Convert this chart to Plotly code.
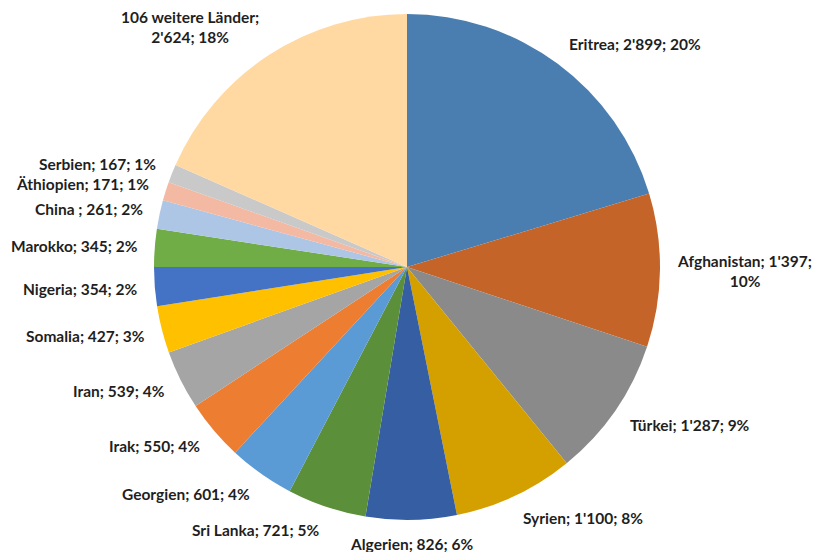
import math
import plotly.graph_objects as go

countries = ["Eritrea", "Afghanistan", "Türkei", "Syrien", "Algerien", "Sri Lanka",
             "Georgien", "Irak", "Iran", "Somalia", "Nigeria", "Marokko", "China ",
             "Äthiopien", "Serbien", "106 weitere Länder"]
values = [2899, 1397, 1287, 1100, 826, 721, 601, 550, 539, 427, 354, 345, 261, 171, 167, 2624]
colors = ["#4a7eb0", "#c46428", "#8a8a8a", "#d4a000", "#365ea3", "#5b8f3a",
          "#5b9bd5", "#ed7d31", "#a5a5a5", "#ffc000", "#4472c4", "#70ad47",
          "#aec6e6", "#f4b9a3", "#c9c9c9", "#ffd9a1"]

break_after_name = {"106 weitere Länder"}
break_before_pct = {"Afghanistan"}

total = sum(values)
texts = []
for c, v in zip(countries, values):
    vs = f"{v:,}".replace(",", "'")
    pct = f"{round(v / total * 100)}%"
    sep1 = ";<br>" if c in break_after_name else "; "
    sep2 = ";<br>" if c in break_before_pct else "; "
    texts.append(f"{c}{sep1}{vs}{sep2}{pct}")

W, H = 816, 552
cx, cy, R = 407, 267, 253
GAP = 15
FONT = dict(family="Lato", size=15.5, color="#1f1f1f", weight="bold")

fig = go.Figure(go.Pie(
    labels=countries, values=values,
    textinfo="none", sort=False, direction="clockwise", rotation=0,
    marker=dict(colors=colors, line=dict(width=0)),
    showlegend=False, hoverinfo="label+value+percent",
    domain=dict(x=[(cx - R) / W, (cx + R) / W],
                y=[(H - cy - R) / H, (H - cy + R) / H]),
))

# outside labels placed at each slice's mid-angle, just beyond the rim
cum = 0
for txt, v in zip(texts, values):
    mid = (cum + v / 2) / total * 2 * math.pi
    cum += v
    s, c = math.sin(mid), math.cos(mid)
    px = cx + (R + GAP) * s
    py = cy - (R + GAP) * c
    xa = "left" if s > 0.3 else ("right" if s < -0.3 else "center")
    nlines = txt.count("<br>") + 1
    half = nlines * 19 / 2
    fig.add_annotation(
        x=px / W, y=1 - py / H, xref="paper", yref="paper",
        text=txt, showarrow=False, xanchor=xa, yanchor="middle",
        yshift=c * half, align="center", font=FONT,
    )

fig.update_layout(width=W, height=H, margin=dict(l=0, r=0, t=0, b=0),
                  paper_bgcolor="white", plot_bgcolor="white")
fig.write_html("out.html")
